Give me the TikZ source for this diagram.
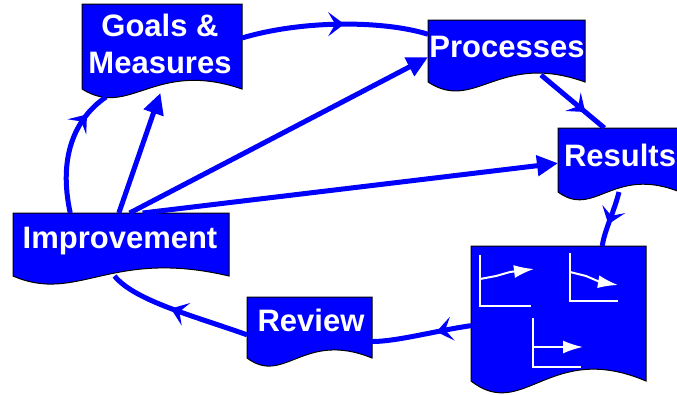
\documentclass[tikz,border=0pt]{standalone}
\usepackage{fontspec}
\setmainfont{Liberation Sans}
\usetikzlibrary{calc,arrows.meta,decorations.markings}
\definecolor{flowblue}{RGB}{0,0,255}

\tikzset{
  docnode/.style={rectangle, inner sep=0pt, outer sep=0pt, anchor=north west},
  doctext/.style={text=white, font=\fontsize{31}{37}\selectfont\bfseries, inner sep=0pt, anchor=base},
  flow/.style={draw=flowblue, color=flowblue, line width=5pt},
  midarrow/.style={postaction={decorate}, decoration={markings,
      mark=at position #1 with {\arrow{Stealth[length=16pt,width=24pt,inset=7pt]}}}},
  midarrow/.default=0.5,
  tipped/.style={-{Triangle[length=21pt,width=20pt]}},
  axes/.style={draw=white, line width=2pt},
  trend/.style={draw=white, line width=2pt, -{Latex[length=20pt,width=13pt]}},
}

% document box: name, x, y, width, height, wave
\newcommand\docbox[6]{%
  \node[docnode, minimum width=#4pt, minimum height=#5pt] (#1) at (#2,#3) {};
  \filldraw[fill=flowblue, draw=black, line width=1pt]
    (#1.south west) -- (#1.north west) -- (#1.north east) -- (#1.south east)
    .. controls +({-0.55*#4},{-#6}) and +({0.3*#4},{#6}) .. (#1.south west) -- cycle;
}

\begin{document}
\begin{tikzpicture}[x=1pt,y=-1pt]
\useasboundingbox (0,0) rectangle (677,394);

% boxes
\docbox{goals}{82}{4}{160}{85}{30}
\docbox{proc}{428}{20}{157}{62}{31}
\docbox{res}{558}{128}{122}{64}{27}
\docbox{imp}{13}{213}{216}{63}{28}
\docbox{rev}{247}{297}{125}{61}{28}
\docbox{chart}{471}{246}{175}{135}{41}

\node[doctext] (goalstxt) at (160,36) {Goals \&};
\node[doctext] (meastxt) at (160,73) {Measures};
\node[doctext] (proctxt) at (507,57) {Processes};
\node[doctext] (restxt) at (620,166) {Results};
\node[doctext] (imptxt) at (120,248) {Improvement};
\node[doctext] (revtxt) at (311,331) {Review};

% the cycle
\draw[flow, midarrow=0.55] ($(goals.north east)!0.4!(goals.south east)$) .. controls +(60,-18) and +(-45,-14) .. ($(proc.north west)!0.23!(proc.south west)$);
\draw[flow, midarrow=0.7] ($(proc.south west)!0.72!(proc.south east)+(0,-7)$) -- ($(res.north west)!0.38!(res.north east)$);
\draw[flow, midarrow=0.6] (res.south) .. controls +(-5,20) and +(2,-15) .. ($(chart.north west)!0.75!(chart.north east)$);
\draw[flow, midarrow=0.35] ($(chart.north west)!0.59!(chart.south west)$) .. controls +(-35,5) and +(25,0) .. ($(rev.north east)!0.73!(rev.south east)$);
\draw[flow, midarrow=0.55] ($(rev.north west)!0.62!(rev.south west)$) .. controls +(-50,-18) and +(20,25) .. ($(imp.south west)!0.47!(imp.south east)$);
\draw[flow, midarrow=0.8] ($(imp.north west)!0.265!(imp.north east)$) .. controls +(-12,-55) and +(-32,22) .. ($(goals.south west)!0.15!(goals.south east)+(0,8)$);

% from improvement
\draw[flow, tipped] ($(imp.north west)!0.49!(imp.north east)$) -- ($(goals.south west)!0.49!(goals.south east)+(0,4)$);
\draw[flow, tipped] ($(imp.north west)!0.54!(imp.north east)$) -- ($(proc.north west)!0.6!(proc.south west)$);
\draw[flow, tipped] ($(imp.north west)!0.6!(imp.north east)$) -- ($(res.north west)!0.55!(res.south west)$);

% little charts
\begin{scope}[shift={(chart.north west)}]
\draw[axes] (9,9) -- (9,60) -- (60,60);
\draw[trend] (9,33) -- (25,30) -- (39,26) -- (63,23);
\draw[axes] (99,7) -- (99,55) -- (147,55);
\draw[trend] (99,26) -- (115,30) -- (129,36) -- (147,39);
\draw[axes] (62,72) -- (62,121) -- (110,121);
\draw[trend] (62,101) -- (112,101);
\end{scope}
\end{tikzpicture}
\end{document}
